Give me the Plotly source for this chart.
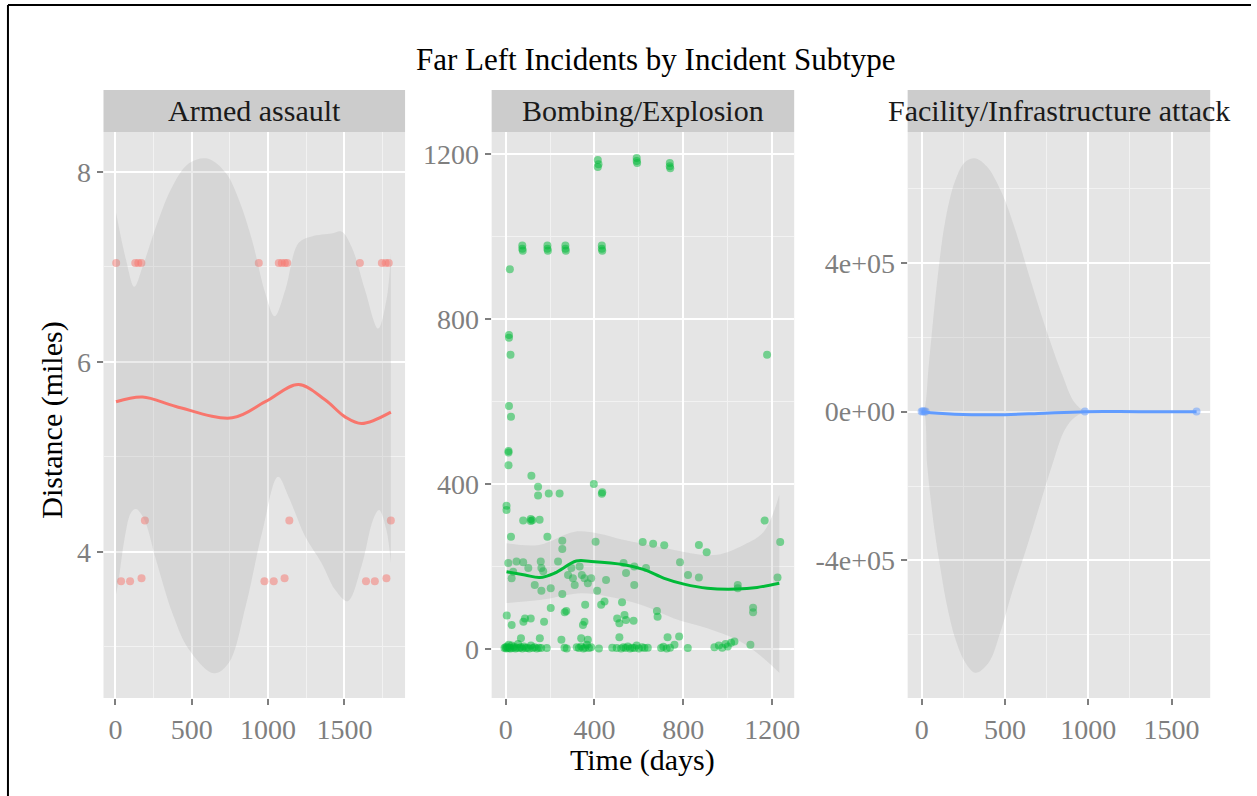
import plotly.graph_objects as go
from plotly.subplots import make_subplots

W, H = 1257, 796
FONT = "Liberation Serif, Times New Roman, serif"

# --- Armed assault ---------------------------------------------------------
armed_t = [5, 130, 150, 170, 939, 1070, 1090, 1110, 1125, 1601, 1745, 1770, 1790,
           193, 1139, 1804,
           37, 96, 171, 976, 1037, 1108, 1641, 1699, 1775]
armed_d = [7.04] * 13 + [4.33] * 3 + [3.69, 3.69, 3.72, 3.69, 3.69, 3.72, 3.69, 3.69, 3.72]

armed_fit_t = [4, 178, 396, 765, 982, 1199, 1373, 1504, 1612, 1804]
armed_fit = [5.58, 5.63, 5.53, 5.41, 5.58, 5.76, 5.60, 5.42, 5.35, 5.47]

armed_hi_t = [4, 70, 124, 178, 265, 374, 482, 602, 722, 808, 895, 982, 1043, 1113,
              1199, 1286, 1417, 1482, 1547, 1634, 1721, 1775, 1804]
armed_hi = [7.57, 7.07, 6.79, 7.00, 7.42, 7.85, 8.09, 8.14, 7.99, 7.71, 7.28, 6.72, 6.48, 6.76,
            7.25, 7.32, 7.35, 7.37, 7.21, 6.76, 6.35, 6.65, 7.14]
armed_lo_t = [4, 22, 59, 102, 135, 189, 265, 374, 482, 645, 743, 852, 960, 1065, 1134,
              1243, 1351, 1439, 1521, 1612, 1688, 1727, 1775, 1804]
armed_lo = [3.55, 3.71, 4.13, 4.41, 4.45, 4.34, 3.92, 3.35, 2.97, 2.72, 2.83, 3.42, 4.20, 4.79, 4.58,
            4.16, 3.88, 3.60, 3.48, 3.85, 4.34, 4.44, 4.23, 3.88]

# --- Bombing/Explosion -----------------------------------------------------
bomb_t = [415, 418, 415, 590, 590, 592, 739, 739, 741,
          75, 75, 77, 188, 188, 190, 269, 269, 271, 433, 433, 435, 19,
          15, 15, 22, 1177, 15, 24, 13, 13, 13,
          116, 146, 146, 194, 243, 397, 433, 435,
          4, 4, 79, 113, 113, 120, 153, 1166,
          24, 188, 255, 255, 405, 617, 664, 714, 870, 905, 1236,
          12, 49, 79, 34, 27, 102, 131, 158, 161, 169, 161, 203, 236, 255,
          281, 296, 303, 311, 333, 343, 355, 370, 385,
          412, 452, 531, 542, 579, 632, 579, 785, 821, 870, 1045, 1045, 1224,
          5, 27, 80, 87, 113, 173, 203, 266, 273, 348, 355, 358, 430, 445, 524,
          502, 512, 535, 542, 576, 681, 684, 154, 69,
          251, 340, 370, 512, 729, 781, 1114, 1114, 1102,
          -5, 0, 3, 6, 10, 14, 18, 22, 27, 32, 38, 44, 50, 56, 62, 68, 75, 82,
          90, 98, 106, 114, 122, 130, 140, 150, 160,
          185, 265, 275, 320, 330, 340, 350, 358, 366, 375, 385, 420, 480,
          500, 520, 530, 540, 550, 560, 570, 580, 590, 600, 615, 625, 640,
          700, 710, 725, 740, 760, 820, 940, 960, 975, 990, 1000, 1015, 1030]
bomb_d = [1185, 1175, 1168, 1190, 1183, 1178, 1178, 1170, 1165,
          978, 970, 965, 978, 970, 965, 978, 970, 965, 978, 970, 965, 920,
          761, 754, 713, 713, 589, 563, 480, 476, 445,
          420, 393, 372, 377, 377, 400, 376, 380,
          347, 337, 311, 315, 310, 312, 313, 311,
          272, 272, 262, 242, 260, 259, 255, 251, 252, 234, 259,
          208, 212, 210, 187, 171, 196, 155, 212, 196, 188, 141, 147, 212, 133,
          179, 196, 171, 155, 200, 179, 171, 159, 171,
          141, 167, 208, 184, 200, 196, 155, 210, 179, 173, 155, 147, 173,
          81, 58, 66, 74, 74, 66, 99, 89, 92, 58, 66, 107, 107, 115, 113,
          74, 62, 82, 70, 68, 92, 78, 26, 26,
          22, 26, 22, 28, 28, 30, 100, 89, 10,
          2, 4, 1, 6, 2, 10, 3, 1, 8, 2, 5, 1, 3, 12, 2, 4, 1, 6,
          2, 3, 1, 8, 2, 4, 1, 3, 2,
          2, 3, 1, 4, 2, 6, 1, 3, 10, 2, 4, 1, 3,
          2, 1, 4, 2, 6, 1, 3, 2, 8, 1, 4, 2, 3,
          2, 5, 1, 3, 10, 2, 4, 8, 3, 12, 6, 15, 18]

bomb_fit_t = [4, 87, 154, 221, 318, 385, 534, 624, 714, 803, 908, 1042, 1132, 1232]
bomb_fit = [187, 179, 173, 184, 213, 212, 204, 192, 171, 157, 147, 145, 149, 159]
bomb_hi_t = [4, 150, 311, 415, 534, 684, 833, 952, 1072, 1162, 1232]
bomb_hi = [256, 252, 284, 280, 264, 248, 232, 228, 252, 284, 373]
bomb_lo_t = [4, 161, 340, 460, 609, 758, 908, 1057, 1162, 1232]
bomb_lo = [111, 119, 135, 127, 107, 74, 50, 18, -23, -58]

# --- Facility/Infrastructure attack ----------------------------------------
fac_t = [0, 8, 16, 24, 980, 1650]
fac_d = [300, 800, 500, 200, 600, 400]

fac_fit_t = [0, 100, 300, 500, 700, 980, 1300, 1650]
fac_fit = [0, -4000, -8000, -8000, -5000, 0, 0, 0]
fac_hi_t = [0, 14, 44, 94, 143, 203, 263, 323, 392, 482, 562, 641, 741, 840, 920, 980, 1300, 1650]
fac_hi = [2000, 5400, 131000, 354000, 516000, 623000, 672000, 681000, 659000, 587000,
          489000, 372000, 229000, 104000, 23000, 3000, 3000, 3000]
fac_lo_t = [0, 14, 34, 74, 104, 153, 203, 263, 323, 402, 472, 542, 621, 701, 781, 860, 920, 980,
            1300, 1650]
fac_lo = [-2000, -3600, -147000, -308000, -397000, -523000, -612000, -675000, -702000, -675000,
          -594000, -487000, -379000, -263000, -147000, -48000, -15000, -3000, -3000, -3000]

fac_ticks = [-400000, 0, 400000]
fac_ticktext = ["-4e+05", "0e+00", "4e+05"]

panels = [
    dict(name="Armed assault", t=armed_t, d=armed_d, fit_t=armed_fit_t, fit=armed_fit,
         hi_t=armed_hi_t, hi=armed_hi, lo_t=armed_lo_t, lo=armed_lo, color="#F8766D"),
    dict(name="Bombing/Explosion", t=bomb_t, d=bomb_d, fit_t=bomb_fit_t, fit=bomb_fit,
         hi_t=bomb_hi_t, hi=bomb_hi, lo_t=bomb_lo_t, lo=bomb_lo, color="#00BA38"),
    dict(name="Facility/Infrastructure attack", t=fac_t, d=fac_d, fit_t=fac_fit_t, fit=fac_fit,
         hi_t=fac_hi_t, hi=fac_hi, lo_t=fac_lo_t, lo=fac_lo, color="#619CFF"),
]

# pixel layout of the panels
xdom_px = [(104, 407), (494, 798), (912, 1216)]
plot_top, plot_bot, strip_top = 132, 698, 90
xranges = [[-78, 1897], [-63, 1299], [-84, 1732]]
yranges = [[2.46, 8.42], [-119, 1253], [-770000, 752000]]


def px(x):
    return x / W


def py(y):
    return 1 - y / H


fig = make_subplots(rows=1, cols=3)

for i, p in enumerate(panels):
    c = i + 1
    fig.add_trace(go.Scatter(
        x=p["t"], y=p["d"], mode="markers",
        marker=dict(color=p["color"], size=8, opacity=0.5, line=dict(width=0)),
        hoverinfo="skip", showlegend=False), row=1, col=c)
    fig.add_trace(go.Scatter(
        x=p["lo_t"], y=p["lo"], mode="lines", line=dict(width=0, shape="spline"),
        hoverinfo="skip", showlegend=False), row=1, col=c)
    fig.add_trace(go.Scatter(
        x=p["hi_t"], y=p["hi"], mode="lines", line=dict(width=0, shape="spline"),
        fill="tonexty", fillcolor="rgba(153,153,153,0.2)",
        hoverinfo="skip", showlegend=False), row=1, col=c)
    fig.add_trace(go.Scatter(
        x=p["fit_t"], y=p["fit"], mode="lines",
        line=dict(color=p["color"], width=3, shape="spline"),
        hoverinfo="skip", showlegend=False), row=1, col=c)

axis_common = dict(
    showgrid=True, gridcolor="white", gridwidth=2, zeroline=False, showline=False,
    ticks="outside", ticklen=6, tickwidth=1.5, tickcolor="#7F7F7F",
    tickfont=dict(family=FONT, size=28, color="#7F7F7F"),
)

x_dticks = [500, 400, 500]
y_dticks = [2, 400, 400000]
for i in range(3):
    sx = "xaxis" if i == 0 else f"xaxis{i + 1}"
    sy = "yaxis" if i == 0 else f"yaxis{i + 1}"
    fig.layout[sx].update(
        domain=[px(xdom_px[i][0]), px(xdom_px[i][1])], range=xranges[i],
        tick0=0, dtick=x_dticks[i],
        minor=dict(tick0=0, dtick=x_dticks[i] / 2, showgrid=True, gridcolor="#F2F2F2",
                   gridwidth=1, ticks=""),
        **axis_common)
    fig.layout[sy].update(
        domain=[py(plot_bot), py(plot_top)], range=yranges[i],
        tick0=0, dtick=y_dticks[i],
        minor=dict(tick0=0, dtick=y_dticks[i] / 2, showgrid=True, gridcolor="#F2F2F2",
                   gridwidth=1, ticks=""),
        **axis_common)

fig.layout.yaxis3.update(tickmode="array", tickvals=fac_ticks, ticktext=fac_ticktext)

shapes = []
annotations = []
for i, p in enumerate(panels):
    x0, x1 = xdom_px[i]
    shapes.append(dict(type="rect", xref="paper", yref="paper",
                       x0=px(x0), x1=px(x1), y0=py(plot_top), y1=py(strip_top),
                       fillcolor="#CCCCCC", line=dict(width=0), layer="below"))
    annotations.append(dict(text=p["name"], xref="paper", yref="paper",
                            x=px((x0 + x1) / 2), y=py((plot_top + strip_top) / 2),
                            showarrow=False, xanchor="center", yanchor="middle",
                            font=dict(family=FONT, size=30, color="#1A1A1A")))

# frame
shapes.append(dict(type="line", xref="paper", yref="paper", x0=px(8), x1=px(8),
                   y0=py(5), y1=0, line=dict(color="black", width=2)))
shapes.append(dict(type="line", xref="paper", yref="paper", x0=px(8), x1=1,
                   y0=py(5), y1=py(5), line=dict(color="black", width=2)))

annotations.append(dict(text="Far Left Incidents by Incident Subtype", xref="paper", yref="paper",
                        x=px(659), y=py(60), showarrow=False, xanchor="center", yanchor="middle",
                        font=dict(family=FONT, size=31, color="black")))
annotations.append(dict(text="Time (days)", xref="paper", yref="paper",
                        x=px(646), y=py(760), showarrow=False, xanchor="center", yanchor="middle",
                        font=dict(family=FONT, size=30, color="black")))
annotations.append(dict(text="Distance (miles)", xref="paper", yref="paper", textangle=-90,
                        x=px(52), y=py(420), showarrow=False, xanchor="center", yanchor="middle",
                        font=dict(family=FONT, size=30, color="black")))

fig.update_layout(
    width=W, height=H, margin=dict(l=0, r=0, t=0, b=0),
    paper_bgcolor="white", plot_bgcolor="#E5E5E5",
    showlegend=False, hovermode=False,
    shapes=shapes, annotations=annotations,
)

fig.write_html("out.html", config={"displayModeBar": False},
               post_script="document.body.style.margin = '0';")
